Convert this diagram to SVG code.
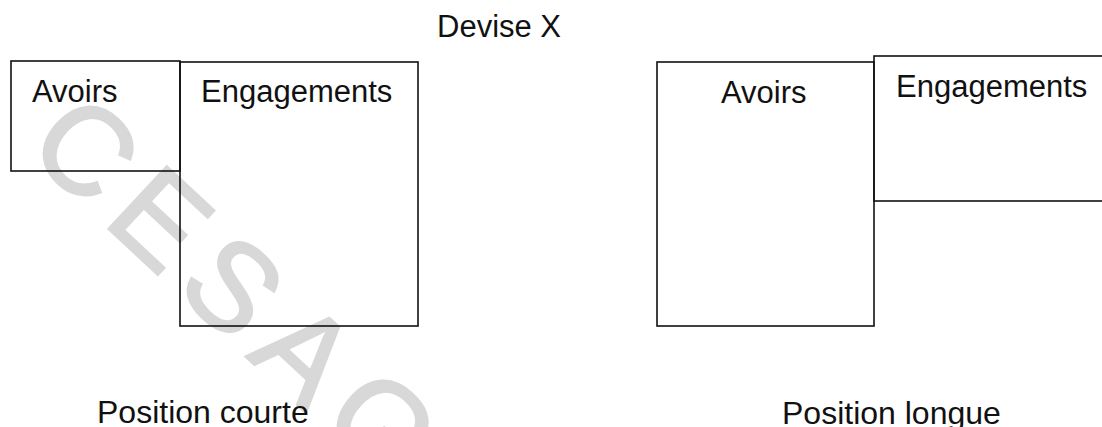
<svg xmlns="http://www.w3.org/2000/svg" width="1102" height="427" viewBox="0 0 1102 427">
  <style>
    .box { fill: none; stroke: #111; stroke-width: 1.6; }
    .lbl { font-family: "Liberation Sans", Arial, sans-serif; font-size: 31px; fill: #111; }
    .cap { font-size: 32px; }
    .mark { font-family: "Liberation Sans", Arial, sans-serif; font-size: 124px; letter-spacing: 16px;
            fill: #d8d8d8; stroke: #d8d8d8; stroke-width: 2.5; }
  </style>
  <rect width="1102" height="427" fill="#fff"/>

  <!-- watermark -->
  <text class="mark" x="0" y="0" transform="translate(24 150) rotate(43)">CESAG</text>

  <text class="lbl" x="437" y="37">Devise X</text>

  <!-- short position -->
  <g id="court-avoirs">
    <rect class="box" x="11" y="61" width="169" height="110"/>
    <text class="lbl" x="32" y="102">Avoirs</text>
  </g>
  <g id="court-engagements">
    <rect class="box" x="180" y="62" width="238" height="264"/>
    <text class="lbl" x="201" y="102">Engagements</text>
  </g>
  <text class="lbl cap" x="97" y="423">Position courte</text>

  <!-- long position -->
  <g id="long-avoirs">
    <rect class="box" x="657" y="62" width="217" height="264"/>
    <text class="lbl" x="721" y="103">Avoirs</text>
  </g>
  <g id="long-engagements">
    <rect class="box" x="874" y="56" width="240" height="145"/>
    <text class="lbl" x="896" y="97">Engagements</text>
  </g>
  <text class="lbl cap" x="782" y="424">Position longue</text>

  <g id="connectors"/>
</svg>
